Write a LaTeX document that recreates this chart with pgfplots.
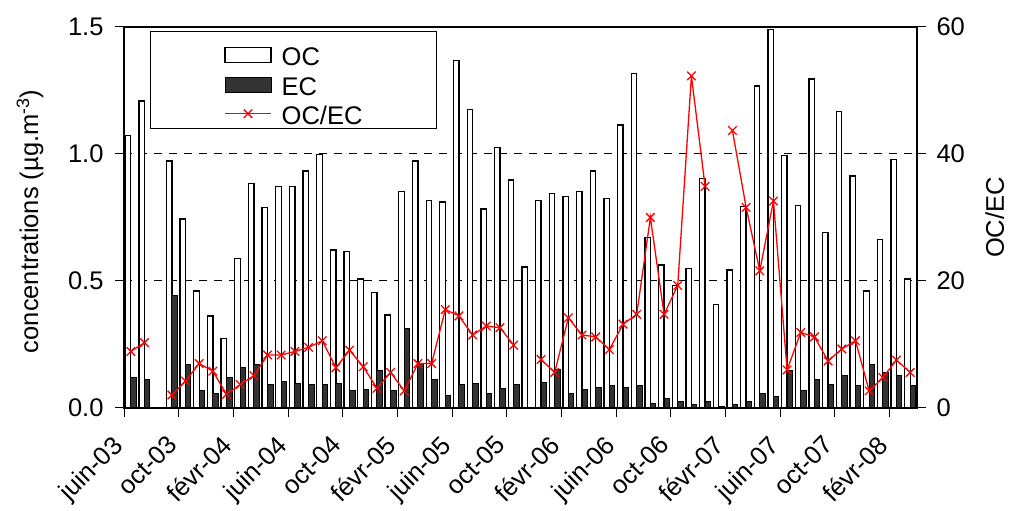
\documentclass[border=0pt]{standalone}
\usepackage{fontspec}
\setmainfont{Liberation Sans}
\usepackage{pgfplots}
\pgfplotsset{compat=1.18}
\usepackage{pgfplotstable}
\definecolor{ecgray}{HTML}{333333}
\tikzset{myfont/.style={font=\fontsize{25.5}{29}\selectfont}}

\pgfplotsset{
  barlegend/.style={legend image code/.code={\path (-74pt,0pt) (0pt,20pt); \draw[##1] (0pt,-8pt) rectangle (46pt,7pt);}},
  linelegend/.style={legend image code/.code={\path (-74pt,0pt) (0pt,19pt) (0pt,-6pt); \draw[mark repeat=2, mark phase=2, ##1] plot coordinates {(0pt,0pt) (23pt,0pt) (46pt,0pt)};}},
}

\pgfplotstableread{
x oc ec r
0.5 1.072 0.119 8.9
1.5 1.209 0.113 10.3
2.5 nan nan nan
3.5 0.972 0.442 2.05
4.5 0.744 0.173 4.25
5.5 0.461 0.067 7.0
6.5 0.362 0.058 5.8
7.5 0.273 0.119 2.15
8.5 0.588 0.159 3.7
9.5 0.885 0.173 5.1
10.5 0.790 0.093 8.35
11.5 0.871 0.106 8.35
12.5 0.871 0.097 8.9
13.5 0.933 0.093 9.55
14.5 0.999 0.093 10.6
15.5 0.622 0.097 6.35
16.5 0.615 0.067 9.1
17.5 0.508 0.073 6.5
18.5 0.454 0.146 3.1
19.5 0.366 0.067 5.6
20.5 0.852 0.314 2.7
21.5 0.972 0.176 7.0
22.5 0.818 0.113 7.0
23.5 0.811 0.051 15.5
24.5 1.369 0.093 14.5
25.5 1.175 0.097 11.5
26.5 0.783 0.058 12.9
27.5 1.026 0.077 12.65
28.5 0.898 0.093 9.9
29.5 0.555 nan nan
30.5 0.818 0.100 7.65
31.5 0.845 0.152 5.6
32.5 0.832 0.058 14.2
33.5 0.852 0.073 11.5
34.5 0.933 0.080 11.2
35.5 0.824 0.087 9.2
36.5 1.114 0.080 13.2
37.5 1.318 0.087 14.75
38.5 0.671 0.018 30.0
39.5 0.563 0.038 14.75
40.5 0.482 0.025 19.3
41.5 0.550 0.012 52.3
42.5 0.904 0.025 34.9
43.5 0.407 0.005 nan
44.5 0.543 0.012 43.7
45.5 0.793 0.025 31.6
46.5 1.268 0.058 21.6
47.5 1.491 0.045 32.6
48.5 0.993 0.146 6.0
49.5 0.797 0.067 11.9
50.5 1.295 0.113 11.2
51.5 0.690 0.093 7.4
52.5 1.167 0.126 9.3
53.5 0.913 0.087 10.6
54.5 0.461 0.173 2.7
55.5 0.664 0.139 4.8
56.5 0.979 0.126 7.55
57.5 0.508 0.087 5.6
}\data

\begin{document}
\begin{tikzpicture}[x=1pt,y=1pt]
\useasboundingbox (0,0) rectangle (1009,511);
\pgfplotsset{
  common/.style={
    at={(124pt,103pt)}, anchor=south west,
    scale only axis, width=793pt, height=381pt,
    xmin=0, xmax=58,
    axis line style={line width=1.2pt, black},
    tick align=outside, major tick length=9pt,
    every tick/.style={black, line width=1pt},
    tick label style={myfont},
    label style={myfont},
    /pgf/number format/assume math mode=true,
  },
}
\begin{axis}[
  common,
  ymin=0, ymax=1.5,
  xtick={0,4,...,56},
  xticklabels={juin-03,oct-03,févr-04,juin-04,oct-04,févr-05,juin-05,oct-05,févr-06,juin-06,oct-06,févr-07,juin-07,oct-07,févr-08},
  xticklabel style={xshift=-13pt, yshift=-14pt, rotate=45, anchor=north east, inner sep=2pt},
  ytick={0,0.5,1,1.5},
  yticklabel style={xshift=-8pt, /pgf/number format/.cd, fixed, fixed zerofill, precision=1},
  ytick pos=left, xtick pos=bottom,
  ymajorgrids,
  grid style={dash pattern=on 8pt off 7pt, line width=1pt, black},
  ylabel={concentrations (µg.m\textsuperscript{-3})},
  every axis y label/.style={at={(axis description cs:-0.1185,0.49)}, rotate=90, anchor=center, myfont},
  legend style={at={(0.0328,0.9895)}, anchor=north west, draw=black, line width=0.8pt,
    myfont, inner xsep=0pt, inner ysep=2.5pt, row sep=-2.5pt, column sep=10pt,
    nodes={inner sep=0pt, text height=23pt, text depth=1pt}},
  legend cell align=left,
]
\addplot[ybar, bar width=0.4, bar shift=-0.2, fill=white, draw=black, line width=1.3pt, barlegend]
  table[x=x,y=oc]{\data};
\addlegendentry{\makebox[155pt][l]{OC}}
\addplot[ybar, bar width=0.4, bar shift=0.2, fill=ecgray, draw=black, line width=1pt, barlegend]
  table[x=x,y=ec]{\data};
\addlegendentry{EC}
\addlegendimage{red, line width=1.3pt, mark=x, mark size=6pt, linelegend}
\addlegendentry{OC/EC}
\end{axis}
\begin{axis}[
  common,
  ymin=0, ymax=60,
  axis y line*=right, axis x line=none,
  ytick={0,20,40,60},
  yticklabel style={xshift=7pt},
  ylabel={OC/EC},
  every axis y label/.style={at={(axis description cs:1.098,0.5)}, rotate=90, anchor=center, myfont},
  unbounded coords=jump,
]
\addplot[red, line width=1.3pt, mark=x, mark size=6pt, mark options={line width=1.3pt}]
  table[x=x,y=r]{\data};
\end{axis}
\end{tikzpicture}
\end{document}
